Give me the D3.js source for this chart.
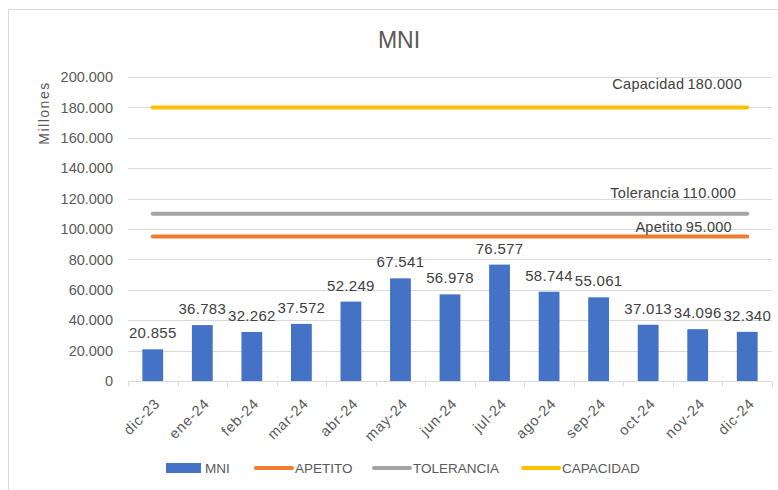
<!DOCTYPE html>
<html><head><meta charset="utf-8">
<script src="https://cdn.jsdelivr.net/npm/d3@7"></script>
<style>
html,body{margin:0;padding:0;background:#fff;}
svg{display:block;font-family:"Liberation Sans",Arial,sans-serif;}
</style></head>
<body>
<script>
const categories = ["dic-23","ene-24","feb-24","mar-24","abr-24","may-24","jun-24","jul-24","ago-24","sep-24","oct-24","nov-24","dic-24"];
const mni = [20855,36783,32262,37572,52249,67541,56978,76577,58744,55061,37013,34096,32340];
const apetito = 95000;
const tolerancia = 110000;
const capacidad = 180000;
const yTicks = [0,20000,40000,60000,80000,100000,120000,140000,160000,180000,200000];
const legendItems = ["MNI","APETITO","TOLERANCIA","CAPACIDAD"];

(function(){
const W = 778, H = 490;
const svg = d3.select("body").append("svg").attr("width", W).attr("height", H);

// chart border
svg.append("rect").attr("x", 8.5).attr("y", 9.5).attr("width", W + 10).attr("height", H + 10)
  .attr("fill", "none").attr("stroke", "#d9d9d9").attr("stroke-width", 1);

const pL = 128, pR = 772, pT = 77, pB = 381;
const fmt = v => d3.format(",")(v).replace(/,/g, ".");

const x = d3.scaleBand().domain(categories).range([pL, pR]).paddingInner(0.58).paddingOuter(0.29);
const xc = d => x(d) + x.bandwidth() / 2;
const y = d3.scaleLinear().domain([0, 200000]).range([pB, pT]);

// gridlines
svg.append("g").selectAll("line").data(yTicks.filter(t => t > 0)).join("line")
  .attr("x1", pL).attr("x2", pR)
  .attr("y1", d => Math.round(y(d)) + 0.5).attr("y2", d => Math.round(y(d)) + 0.5)
  .attr("stroke", "#d9d9d9").attr("stroke-width", 1);

// y axis labels
const yAxis = d3.axisLeft(y).tickValues(yTicks).tickFormat(fmt).tickSize(0).tickPadding(15);
const gy = svg.append("g").attr("transform", `translate(${pL},0)`).call(yAxis);
gy.select(".domain").remove();
gy.selectAll("text").attr("fill", "#595959").style("font-size", "14.5px").style("font-family", "Liberation Sans, Arial, sans-serif");

// y axis title
svg.append("text").attr("transform", `translate(49,113) rotate(-90)`)
  .attr("text-anchor", "middle").attr("fill", "#595959")
  .style("font-size", "14px").style("letter-spacing", "1.5px").text("Millones");

// x axis
const xAxisScale = d3.scalePoint().domain(d3.range(categories.length + 1)).range([pL, pR]);
const gx = svg.append("g").attr("transform", `translate(0,${pB + 0.5})`);
gx.append("line").attr("x1", pL).attr("x2", pR).attr("stroke", "#d9d9d9");
gx.selectAll("line.tick").data(d3.range(categories.length + 1)).join("line").attr("class", "tick")
  .attr("x1", d => Math.round(xAxisScale(d)) + 0.5).attr("x2", d => Math.round(xAxisScale(d)) + 0.5)
  .attr("y1", 0).attr("y2", 5).attr("stroke", "#d9d9d9");
gx.selectAll("text").data(categories).join("text")
  .attr("transform", d => `translate(${xc(d) + 8},${23}) rotate(-45)`)
  .attr("text-anchor", "end").attr("fill", "#595959")
  .style("font-size", "14.5px").style("letter-spacing", "0.8px").text(d => d);

// bars
svg.append("g").selectAll("rect").data(mni).join("rect")
  .attr("x", (d, i) => x(categories[i])).attr("width", x.bandwidth())
  .attr("y", d => y(d)).attr("height", d => y(0) - y(d))
  .attr("fill", "#4472c4");

// bar labels
svg.append("g").selectAll("text").data(mni).join("text")
  .attr("x", (d, i) => xc(categories[i])).attr("y", d => y(d) - 11)
  .attr("text-anchor", "middle").attr("fill", "#404040")
  .style("font-size", "15px").style("letter-spacing", "0.3px").text(d => fmt(d));

// threshold lines
const thresholds = [
  {name: "Apetito", v: apetito, color: "#ed7d31"},
  {name: "Tolerancia", v: tolerancia, color: "#a5a5a5"},
  {name: "Capacidad", v: capacidad, color: "#ffc000"}
];
const x0 = xc(categories[0]), x1 = xc(categories[categories.length - 1]);
const line = d3.line().x(d => d[0]).y(d => d[1]);
thresholds.forEach(t => {
  svg.append("path").attr("d", line([[x0, y(t.v)], [x1, y(t.v)]]))
    .attr("stroke", t.color).attr("stroke-width", 4).attr("stroke-linecap", "round").attr("fill", "none");
});
const labelPos = {Capacidad: [742, -18], Tolerancia: [736, -16], Apetito: [732, -5]};
thresholds.forEach(t => {
  svg.append("text").attr("x", labelPos[t.name][0]).attr("y", y(t.v) + labelPos[t.name][1])
    .attr("text-anchor", "end").attr("fill", "#404040")
    .style("font-size", "14.5px").style("letter-spacing", "0.3px").text(t.name + "\u2009" + fmt(t.v));
});

// title
svg.append("text").attr("x", 399).attr("y", 48).attr("text-anchor", "middle")
  .attr("fill", "#595959").style("font-size", "23px").text("MNI");

// legend
const legColors = ["#4472c4", "#ed7d31", "#a5a5a5", "#ffc000"];
const legX = [166, 255, 373, 522];
const legY = 468;
legendItems.forEach((name, i) => {
  if (i === 0) {
    svg.append("rect").attr("x", legX[i]).attr("y", legY - 5).attr("width", 35).attr("height", 10).attr("fill", legColors[i]);
  } else {
    svg.append("line").attr("x1", legX[i] + 1).attr("x2", legX[i] + 37).attr("y1", legY).attr("y2", legY)
      .attr("stroke", legColors[i]).attr("stroke-width", 4).attr("stroke-linecap", "round");
  }
  svg.append("text").attr("x", legX[i] + (i === 0 ? 39 : 40)).attr("y", legY + 5)
    .attr("fill", "#595959").style("font-size", "13.5px").text(name);
});
})();
</script>
</body></html>
